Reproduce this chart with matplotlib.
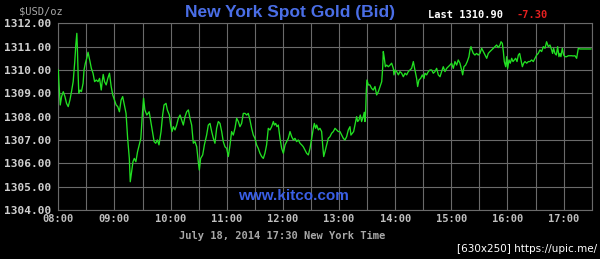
"""Kitco-style intraday spot gold chart, New York, July 18 2014."""

import matplotlib
matplotlib.use("Agg")
import matplotlib.pyplot as plt

# minutes after 08:00 New York time
minutes = [
    0.0, 0.7, 2.1, 3.5, 5.3, 7.1, 8.8, 10.6, 12.4, 14.1,
    15.9, 17.6, 18.7, 19.8, 20.5, 21.2, 21.9, 23.3, 24.7, 26.5,
    27.5, 28.9, 30.4, 31.8, 32.8, 33.9, 35.3, 37.1, 38.8, 40.6,
    42.4, 44.1, 45.9, 46.9, 48.0, 49.4, 51.2, 52.9, 54.7, 56.5,
    58.2, 60.0, 61.8, 63.5, 65.3, 67.1, 68.8, 70.6, 72.4, 74.1,
    75.9, 76.9, 78.4, 79.8, 81.2, 82.9, 84.7, 86.5, 88.2, 90.0,
    91.1, 92.5, 94.6, 97.1, 98.8, 100.6, 102.4, 104.1, 105.9, 107.6,
    109.8, 111.5, 113.0, 115.1, 116.5, 118.7, 120.1, 121.5, 122.9, 124.7,
    126.5, 128.3, 130.1, 131.8, 133.6, 135.4, 137.2, 139.0, 140.7, 142.5,
    144.3, 146.1, 147.9, 149.6, 150.7, 152.1, 154.3, 156.1, 158.5, 160.3,
    162.1, 163.9, 165.7, 167.4, 169.2, 171.0, 172.8, 174.6, 176.3, 178.1,
    179.9, 181.7, 183.5, 185.2, 187.0, 188.8, 190.6, 192.4, 194.1, 195.9,
    197.7, 199.5, 201.3, 203.0, 204.8, 206.6, 208.4, 210.2, 211.9, 213.7,
    215.5, 217.3, 219.1, 220.8, 222.6, 224.4, 226.2,
    228.0, 229.8, 230.9, 232.3, 233.7, 235.1, 236.9, 238.7, 240.5, 242.3,
    244.0, 245.8, 247.6, 249.4, 251.2, 252.9, 254.7, 256.5, 258.3, 260.1,
    261.8, 263.6, 265.4, 267.2, 269.0, 270.7, 272.5, 273.6, 275.0, 276.1,
    277.9, 279.6, 281.4, 282.5, 283.6, 285.0, 286.8, 288.5, 290.3, 292.1,
    293.9, 295.7, 297.4, 299.2, 301.0, 302.8, 304.6, 306.3, 308.1, 309.9,
    311.7, 312.7, 314.2, 315.6, 317.0, 318.8, 319.9, 321.3, 322.7, 324.1,
    325.9, 327.0, 327.7, 328.4, 329.1, 329.8, 331.3, 333.0, 334.8, 336.6,
    338.4,
    340.2, 342.0, 343.8, 345.6, 346.6, 347.3, 348.4, 349.5, 350.9, 352.7,
    354.5, 356.2, 358.0, 358.7, 359.8, 361.6, 363.4, 365.1, 366.9, 368.7,
    370.5, 372.3, 374.0, 375.8, 377.6, 379.4, 380.4, 381.5, 382.9, 384.0,
    385.4, 387.2, 389.0, 390.8, 391.8, 393.6, 395.4, 397.2, 399.0, 400.7,
    402.5, 404.3, 406.1, 407.9, 409.6, 411.4, 413.2, 415.0, 416.8, 418.5,
    420.3, 422.1, 423.9, 425.7, 427.4, 429.2, 431.0, 432.1, 433.5, 435.3,
    437.0, 438.8, 439.9, 441.0, 442.0, 443.5, 445.2, 447.0, 448.8, 450.6,
    452.4, 454.2, 456.0, 457.8, 459.5, 461.3, 463.1, 464.9, 466.7, 468.4,
    470.2, 472.0, 473.1, 474.5, 475.6, 476.6, 478.1, 479.1, 480.2, 481.6,
    483.0, 484.5, 485.9, 487.3, 488.7, 490.2, 491.6, 493.0, 494.4, 495.9,
    497.3, 498.7, 500.5, 502.3, 504.0, 505.8, 507.6, 509.4, 511.2, 512.9,
    514.7, 516.5, 518.3, 520.1, 521.8, 523.6, 525.4, 527.2, 528.2, 529.3,
    530.7, 532.2, 533.6, 535.0, 536.1, 537.1, 538.6, 540.0, 541.4, 543.2,
    545.0, 546.8, 548.5, 550.3, 552.1, 553.9, 555.7, 557.4, 562.8, 568.1,
    569.2,
]

# bid price, USD per troy ounce
bid = [
    1310.00, 1309.43, 1308.50, 1308.86, 1309.07, 1308.86, 1308.57, 1308.43, 1308.71, 1309.07,
    1309.50, 1310.36, 1311.07, 1311.57, 1310.79, 1309.79, 1309.00, 1309.14, 1309.07, 1309.43,
    1310.00, 1310.29, 1310.50, 1310.76, 1310.57, 1310.36, 1310.07, 1309.86, 1309.50, 1309.57,
    1309.50, 1309.64, 1309.14, 1309.50, 1309.81, 1309.50, 1309.36, 1309.64, 1309.86, 1309.29,
    1308.93, 1308.71, 1308.50, 1308.43, 1308.21, 1308.71, 1308.86, 1308.50, 1308.14, 1307.07,
    1306.21, 1305.21, 1305.64, 1306.07, 1306.21, 1306.07, 1306.50, 1306.79, 1307.07, 1308.21,
    1308.79, 1308.29, 1308.07, 1308.21, 1307.79, 1307.36, 1306.93, 1306.86, 1307.00, 1306.79,
    1307.36, 1308.07, 1308.50, 1308.57, 1308.29, 1308.07, 1307.64, 1307.36, 1307.57, 1307.43,
    1307.64, 1307.93, 1308.07, 1307.86, 1307.64, 1308.00, 1308.21, 1308.29, 1307.93, 1307.64,
    1306.86, 1306.93, 1306.71, 1306.07, 1305.71, 1306.21, 1306.36, 1306.79, 1307.21, 1307.64,
    1307.71, 1307.36, 1307.07, 1306.86, 1307.50, 1307.79, 1307.71, 1307.36, 1306.93, 1306.71,
    1306.64, 1306.29, 1306.79, 1307.36, 1307.21, 1307.50, 1307.93, 1307.79, 1307.57, 1307.71,
    1308.14, 1308.14, 1308.07, 1308.14, 1307.86, 1307.50, 1307.21, 1307.07, 1306.79, 1306.64,
    1306.43, 1306.29, 1306.21, 1306.43, 1306.79, 1307.50, 1307.43,
    1307.57, 1307.79, 1307.64, 1307.71, 1307.57, 1307.64, 1307.07, 1306.64, 1306.43, 1306.79,
    1306.93, 1307.07, 1307.36, 1307.14, 1307.00, 1307.07, 1306.93, 1307.00, 1306.86, 1306.79,
    1306.71, 1306.57, 1306.43, 1306.36, 1306.64, 1307.07, 1307.50, 1307.71, 1307.50, 1307.64,
    1307.43, 1307.50, 1307.36, 1306.79, 1306.29, 1306.50, 1306.79, 1307.07, 1307.14, 1307.29,
    1307.36, 1307.50, 1307.43, 1307.36, 1307.36, 1307.21, 1307.07, 1307.00, 1307.14, 1307.43,
    1307.57, 1307.21, 1307.29, 1307.36, 1307.64, 1308.00, 1307.79, 1307.86, 1308.07, 1307.79,
    1308.00, 1308.19, 1307.79, 1308.14, 1309.07, 1309.57, 1309.36, 1309.36, 1309.21, 1309.14,
    1309.29,
    1308.93, 1309.07, 1309.29, 1309.50, 1310.07, 1310.79, 1310.50, 1310.14, 1310.21, 1310.14,
    1310.21, 1310.29, 1310.07, 1309.79, 1310.00, 1309.93, 1309.79, 1309.93, 1309.86, 1309.71,
    1309.86, 1309.79, 1309.93, 1310.00, 1310.07, 1310.36, 1310.14, 1309.93, 1309.64, 1309.29,
    1309.57, 1309.64, 1309.79, 1309.64, 1309.86, 1309.79, 1309.93, 1310.00, 1310.00, 1309.86,
    1309.93, 1310.07, 1309.79, 1309.71, 1309.93, 1310.14, 1309.93, 1310.07, 1310.14, 1310.21,
    1310.29, 1310.07, 1310.36, 1310.21, 1310.43, 1310.29, 1310.00, 1309.79, 1310.14, 1310.21,
    1310.36, 1310.57, 1310.86, 1311.00, 1310.86, 1310.71, 1310.64, 1310.71, 1310.64, 1310.71,
    1310.93, 1310.79, 1310.64, 1310.50, 1310.71, 1310.79, 1310.86, 1310.93, 1311.00, 1311.07,
    1310.96, 1311.07, 1311.21, 1311.14, 1310.79, 1310.36, 1310.14, 1310.57, 1310.07, 1310.43,
    1310.29, 1310.50, 1310.36, 1310.43, 1310.50, 1310.36, 1310.64, 1310.71, 1310.43, 1310.14,
    1310.29, 1310.36, 1310.29, 1310.36, 1310.36, 1310.43, 1310.36, 1310.50, 1310.64, 1310.71,
    1310.86, 1310.79, 1311.00, 1310.93, 1311.21, 1311.00, 1311.07, 1310.86, 1310.71, 1310.93,
    1310.71, 1310.64, 1311.00, 1310.57, 1310.71, 1310.57, 1310.93, 1310.64, 1310.57, 1310.57,
    1310.61, 1310.61, 1310.61, 1310.60, 1310.61, 1310.50, 1310.93, 1310.90, 1310.90, 1310.90,
    1310.90,
]

hour_labels = ["08:00", "09:00", "10:00", "11:00", "12:00",
               "13:00", "14:00", "15:00", "16:00", "17:00"]
price_ticks = [1304, 1305, 1306, 1307, 1308, 1309, 1310, 1311, 1312]
last_price = 1310.90
change = -7.30

MONO = "DejaVu Sans Mono"
GRID = "#6a6a6a"


def main():
    fig = plt.figure(figsize=(6.0, 2.59), dpi=100, facecolor="black")
    ax = fig.add_axes([58.3 / 600, 49 / 259, 533.4 / 600, 186.7 / 259])
    ax.set_facecolor("black")

    ax.plot(minutes, bid, color="#22e022", lw=0.95, zorder=3)

    ax.set_xlim(0, 570)
    ax.set_ylim(1304, 1312)
    ax.set_xticks([60 * i for i in range(len(hour_labels))])
    ax.set_xticklabels(hour_labels)
    ax.set_xticks([30 + 60 * i for i in range(10)], minor=True)
    ax.set_yticks(price_ticks)
    ax.set_yticklabels([f"{p:.2f}" for p in price_ticks])

    ax.grid(True, which="both", color=GRID, lw=0.8)
    ax.set_axisbelow(True)
    for s in ax.spines.values():
        s.set_color(GRID)
        s.set_linewidth(0.8)
    ax.tick_params(which="both", length=0)
    ax.tick_params(axis="y", pad=5, colors="#d0d0d0")
    ax.tick_params(axis="x", pad=3, colors="#c0c0c0")
    for lbl in ax.get_yticklabels():
        lbl.set_fontfamily(MONO)
        lbl.set_fontsize(8)
        lbl.set_fontweight("bold")
    for lbl in ax.get_xticklabels():
        lbl.set_fontfamily(MONO)
        lbl.set_fontsize(7.5)
        lbl.set_fontweight("bold")

    # header texts
    fig.text(290 / 600, 1 - 13 / 259, "New York Spot Gold (Bid)",
             color="#4a6ee6", fontsize=12.5, fontweight="bold",
             family="Liberation Sans", ha="center", va="center")
    fig.text(41 / 600, 1 - 11 / 259, "$USD/oz", color="#a8a8a8",
             fontsize=7.5, family=MONO, ha="center", va="center")
    fig.text(428 / 600, 1 - 15.5 / 259, f"Last {last_price:.2f}",
             color="white", fontsize=7.5, family=MONO, fontweight="bold",
             ha="left", va="center")
    fig.text(516 / 600, 1 - 15.5 / 259, f"{change:.2f}", color="#e52020",
             fontsize=7.5, family=MONO, fontweight="bold",
             ha="left", va="center")

    ax.text(0.44, 0.04, "www.kitco.com", transform=ax.transAxes,
            color="#3a5fe6", fontsize=11, fontweight="bold",
            family="Liberation Sans", ha="center", va="bottom")

    fig.text(282 / 600, 1 - 236 / 259, "July 18, 2014 17:30 New York Time",
             color="#a8a8a8", fontsize=7.5, family=MONO, fontweight="bold",
             ha="center", va="center")
    fig.text(597 / 600, 1 - 249 / 259, "[630x250] https://upic.me/",
             color="white", fontsize=7.5, family="DejaVu Sans",
             ha="right", va="center")

    fig.savefig("out.png", dpi=100, facecolor="black")
    plt.close(fig)


if __name__ == "__main__":
    main()
